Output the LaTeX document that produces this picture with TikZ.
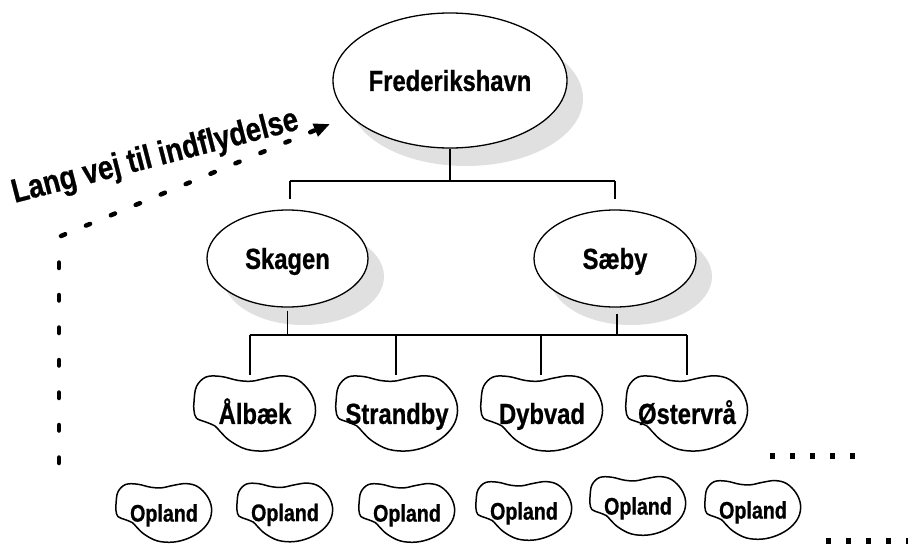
\documentclass[tikz,border=0pt]{standalone}
\usepackage{fontspec}
\newfontfamily\nb{Liberation Sans}[FakeStretch=0.82, BoldFeatures={FakeBold=0.7}]
\usetikzlibrary{shapes.geometric,shadows,arrows.meta}
\newcommand\myblob[3]{%
  \draw[blobline, shift={(#1.center)}, xscale=#2, yscale=-#3]
    plot[smooth cycle, tension=0.6] coordinates {
    (-1.00,0.30) (-0.96,0.70) (-0.80,0.95) (-0.55,0.96) (-0.28,0.86)
    (-0.05,0.84) (0.19,0.92) (0.46,0.98) (0.70,0.88) (0.90,0.56)
    (0.99,0.17) (0.95,-0.23) (0.78,-0.58) (0.51,-0.84) (0.19,-0.97)
    (-0.14,-0.93) (-0.41,-0.71) (-0.57,-0.47) (-0.66,-0.32) (-0.81,-0.22)
    (-0.96,-0.12) (-1.00,0.08)};}
\begin{document}
\begin{tikzpicture}[x=1pt,y=-1pt,
  conn/.style={line width=1.3pt},
  blobline/.style={line width=1.5pt},
  oval/.style={ellipse, draw, line width=1.3pt, fill=white, inner sep=0pt,
    font=\nb\bfseries\fontsize{29}{29}\selectfont, text height=20.8pt, text depth=0pt,
    drop shadow={shadow xshift=16pt, shadow yshift=-18pt, fill=black!12, opacity=1}},
  townblob/.style={inner sep=0pt, minimum width=122pt, minimum height=77pt,
    font=\nb\bfseries\fontsize{29}{29}\selectfont, text height=20.8pt, text depth=0pt},
  oplandblob/.style={inner sep=0pt, minimum width=96pt, minimum height=60pt,
    font=\nb\bfseries\fontsize{24}{24}\selectfont, text height=17.2pt, text depth=0pt},
  langtext/.style={font=\nb\bfseries\fontsize{33.5}{33.5}\selectfont, inner sep=0pt},
  dotline/.style={line width=4.5pt, line cap=round, dash pattern=on 5.5pt off 27pt},
  diagline/.style={line width=4.5pt, line cap=round, dash pattern=on 4.5pt off 22.5pt},
  sqdots/.style={line width=6pt, dash pattern=on 4.5pt off 15.5pt}
]
\fill[white] (0,0) rectangle (908,544);
\useasboundingbox (0,0) rectangle (908,544);

% level 1 and 2
\node[oval, minimum width=234pt, minimum height=135pt] (fred) at (450,80.5) {Frederikshavn};
\node[oval, minimum width=161pt, minimum height=97pt] (skagen) at (287.5,258.5) {Skagen};
\node[oval, minimum width=162pt, minimum height=97pt] (saeby) at (615,258.5) {Sæby};

% level 3
\node[townblob] (aalbaek) at (255,413.5) {Ålbæk};
\node[townblob] (strandby) at (397,413.5) {Strandby};
\node[townblob] (dybvad) at (542,413.5) {Dybvad};
\node[townblob] (oester) at (687,413.5) {Østervrå};
\myblob{aalbaek}{61}{38.5}
\myblob{strandby}{61}{38.5}
\myblob{dybvad}{61}{38.5}
\myblob{oester}{61}{38.5}

% opland
\node[oplandblob] (op1) at (164,513) {Opland};
\node[oplandblob] (op2) at (285,512.5) {Opland};
\node[oplandblob] (op3) at (407,513) {Opland};
\node[oplandblob] (op4) at (524,511) {Opland};
\node[oplandblob] (op5) at (638,506) {Opland};
\node[oplandblob] (op6) at (753,510) {Opland};
\foreach \n in {op1,op2,op3,op4,op5,op6}{\myblob{\n}{48}{30}}

% connectors level 1 -> 2
\coordinate (b1l) at (290,181);
\coordinate (b1r) at (615,181);
\draw[conn] (fred.south) -- (fred.south |- b1l);
\draw[conn] (b1l) -- (b1r);
\draw[conn] (b1l) -- ([yshift=10pt]b1l |- skagen.north);
\draw[conn] (b1r) -- ([yshift=10pt]b1r |- saeby.north);

% connectors level 2 -> 3
\coordinate (b2a) at (250,335);
\coordinate (b2b) at (396,335);
\coordinate (b2c) at (541,335);
\coordinate (b2d) at (687,335);
\coordinate (b2s) at (617,335);
\draw[conn] ([yshift=-3pt]skagen.south) -- (skagen.south |- b2a);
\draw[conn] ([yshift=-6pt]b2s |- saeby.south) -- (b2s);
\draw[conn] (b2a) -- (b2d);
\draw[conn] (b2a) -- (b2a |- aalbaek.north);
\draw[conn] (b2b) -- (b2b |- strandby.north);
\draw[conn] (b2c) -- (b2c |- dybvad.north);
\draw[conn] (b2d) -- (b2d |- oester.north);

% long road arrow
\coordinate (start) at (59,463);
\coordinate (corner) at (59,240);
\coordinate (diagstart) at (61,236);
\coordinate (tip) at (330,124);
\draw[dotline] (start) -- (corner);
\draw[diagline, -{Triangle[length=16pt,width=13pt]}] (diagstart) -- (tip);
\node[langtext, rotate=14.5, anchor=base] (lang) at (157.5,166) {Lang vej til indflydelse};

% dotted continuation marks
\coordinate (r1a) at (770,456);
\coordinate (r1b) at (856,456);
\coordinate (r2a) at (826,541);
\coordinate (r2b) at (912,541);
\draw[sqdots] (r1a) -- (r1b);
\draw[sqdots] (r2a) -- (r2b);
\end{tikzpicture}
\end{document}
